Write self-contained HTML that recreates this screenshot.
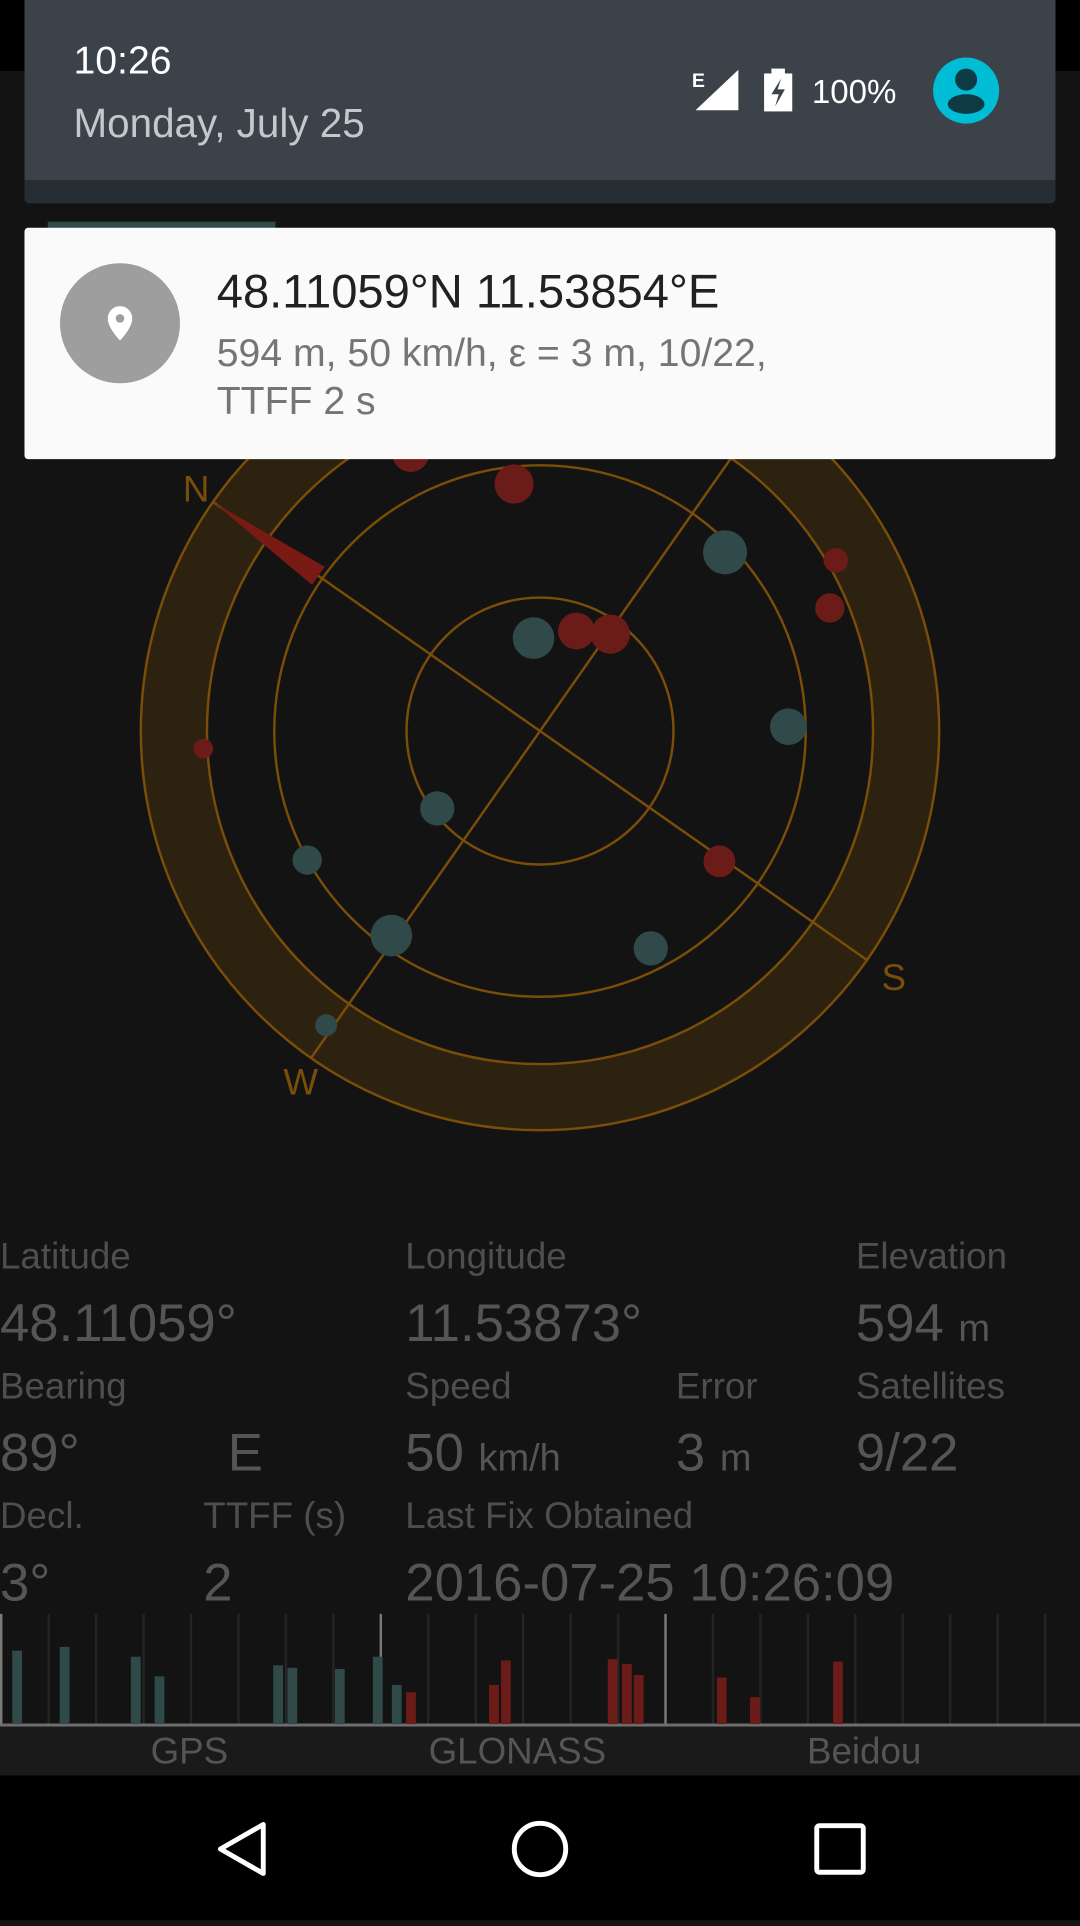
<!DOCTYPE html>
<html><head><meta charset="utf-8"><style>
html,body{margin:0;padding:0;background:#131313;overflow:hidden;width:1080px;height:1920px}
#root{position:absolute;left:0;top:0;width:882px;height:1568px;transform:scale(1.22449);transform-origin:0 0;background:#131313;font-family:"Liberation Sans",sans-serif}
.abs{position:absolute}
.lbl{position:absolute;color:#4e4e4e;font-size:30px;white-space:nowrap}
.val{position:absolute;color:#555;font-size:43px;white-space:nowrap}
.val small{font-size:31px}
</style></head><body>
<div id="root">
<div class="abs" style="left:0;top:0;width:882px;height:58px;background:#000"></div>
<svg class="abs" id="plot" style="left:0;top:0" width="882" height="1000"></svg>
<div class="abs" style="left:20px;top:0;width:842px;height:147px;background:#3b424a"></div>
<div class="abs" style="left:20px;top:147px;width:842px;height:19px;background:#262d33;border-radius:0 0 4px 4px"></div>
<div class="abs" style="left:60px;top:31px;color:#fff;font-size:32px">10:26</div>
<div class="abs" style="left:60px;top:82px;color:#c5c8cb;font-size:33px">Monday, July 25</div>
<svg class="abs" style="left:560px;top:45px" width="270" height="60">
<text x="5" y="26" fill="#fff" font-size="16" font-family="Liberation Sans" font-weight="bold">E</text>
<polygon points="43,12 43,45 8,45" fill="#fff"/>
<rect x="64" y="15" width="23" height="31" fill="#fff"/><rect x="70" y="11" width="11" height="5" fill="#fff"/>
<polygon points="78,19 70,32 76,32 73,42 81,28 75,28" fill="#3b424a"/>
<text x="103" y="39" fill="#fff" font-size="27" font-family="Liberation Sans">100%</text>
<circle cx="229" cy="29" r="27" fill="#00bcd4"/><circle cx="229" cy="20" r="9" fill="#0d3a45"/><ellipse cx="229" cy="40" rx="15" ry="8" fill="#0d3a45"/>
</svg>
<div class="abs" style="left:39px;top:181px;width:186px;height:6px;background:#2f4a48"></div>
<div class="abs" style="left:20px;top:186px;width:842px;height:189px;background:#fafafa;border-radius:3px">
<div class="abs" style="left:29px;top:29px;width:98px;height:98px;border-radius:50%;background:#9e9e9e">
<svg width="98" height="98"><path d="M49,35 a10,10 0 0 1 10,10 c0,8 -10,18 -10,18 c0,0 -10,-10 -10,-18 a10,10 0 0 1 10,-10z" fill="#fff"/><circle cx="49" cy="45" r="3.5" fill="#9e9e9e"/></svg></div>
<div class="abs" style="left:157px;top:31px;font-size:38.5px;color:#212121">48.11059°N 11.53854°E</div>
<div class="abs" style="left:157px;top:83px;font-size:32px;color:#757575;line-height:39px">594 m, 50 km/h, ε = 3 m, 10/22,<br>TTFF 2 s</div>
</div>

<div class="lbl" style="left:0;top:1010px">Latitude</div>
<div class="val" style="left:0;top:1057px">48.11059°</div>
<div class="lbl" style="left:331px;top:1010px">Longitude</div>
<div class="val" style="left:331px;top:1057px">11.53873°</div>
<div class="lbl" style="left:699px;top:1010px">Elevation</div>
<div class="val" style="left:699px;top:1057px">594 <small>m</small></div>
<div class="lbl" style="left:0;top:1116px">Bearing</div>
<div class="val" style="left:0;top:1163px">89°</div>
<div class="val" style="left:186px;top:1163px">E</div>
<div class="lbl" style="left:331px;top:1116px">Speed</div>
<div class="val" style="left:331px;top:1163px">50 <small>km/h</small></div>
<div class="lbl" style="left:552px;top:1116px">Error</div>
<div class="val" style="left:552px;top:1163px">3 <small>m</small></div>
<div class="lbl" style="left:699px;top:1116px">Satellites</div>
<div class="val" style="left:699px;top:1163px">9/22</div>
<div class="lbl" style="left:0;top:1222px">Decl.</div>
<div class="val" style="left:0;top:1269px">3°</div>
<div class="lbl" style="left:166px;top:1222px">TTFF (s)</div>
<div class="val" style="left:166px;top:1269px">2</div>
<div class="lbl" style="left:331px;top:1222px">Last Fix Obtained</div>
<div class="val" style="left:331px;top:1269px">2016-07-25 10:26:09</div>

<svg class="abs" id="bars" style="left:0;top:1310px" width="882" height="140"></svg>
<div class="abs" style="left:0;top:1410px;width:882px;height:40px;background:#1a1a1a"></div>
<div class="lbl" style="left:123px;top:1414px;color:#555">GPS</div>
<div class="lbl" style="left:350px;top:1414px;color:#555">GLONASS</div>
<div class="lbl" style="left:659px;top:1414px;color:#555">Beidou</div>

<div class="abs" style="left:0;top:1450px;width:882px;height:118px;background:#000">
<svg width="882" height="118"><polygon points="215,40 215,80 180,60" fill="none" stroke="#fff" stroke-width="4" stroke-linejoin="round"/><circle cx="441" cy="60" r="21" fill="none" stroke="#fff" stroke-width="4"/><rect x="667" y="41" width="38" height="38" rx="2" fill="none" stroke="#fff" stroke-width="4"/></svg>
</div>
</div>
<script>
// sky plot data
const satAzimuth = [51,101,144,288,296,271,208,271, 30,49,75,91,115,122,322,181];
const satElevation = [69,32,34,61,30,33,35,8, 21,34,66,63,13,19,14,40];
const satSize = [17,18,15,14,12,17,14,9, 15,16,15,16,10,12,8,13];
const satUsed = [1,1,1,1,1,1,1,1, 0,0,0,0,0,0,0,0];
const rotation = -55;
// SNR bars
const barChannel = [0,1,2.5,3,5.5,5.8,6.8,7.6,8.0, 8.3,10.05,10.3,12.55,12.85,13.1,14.85,15.55,17.3];
const barSnr = [30,31.5,27.5,19.5,24,23,22.5,27.5,16, 13,16,26,26.5,24.5,20, 19,11,25.5];
const barUsed = [1,1,1,1,1,1,1,1,1, 0,0,0,0,0,0, 0,0,0];

const NS='http://www.w3.org/2000/svg';
function mk(p,t,a){const e=document.createElementNS(NS,t);for(const k in a)e.setAttribute(k,a[k]);p.appendChild(e);return e;}
const plot=document.getElementById('plot');
const cx=441,cy=597,R=326;
const rOf=el=>R*(1-el/90);
function pos(az,el){const a=(az+rotation)*Math.PI/180,r=rOf(el);return [cx+r*Math.sin(a),cy-r*Math.cos(a)];}
const ring=mk(plot,'circle',{cx:cx,cy:cy,r:299,fill:'none',stroke:'#2d220f','stroke-width':53});


const lc='#7a4e08';
[R,272,217,109].forEach(r=>{const c=mk(plot,'circle',{cx:cx,cy:cy,r:r,fill:'none',stroke:lc,'stroke-width':2});

});
[0,90].forEach(az=>{const p1=pos(az,0),p2=pos(az+180,0);const l=mk(plot,'line',{x1:p1[0],y1:p1[1],x2:p2[0],y2:p2[1],stroke:lc,'stroke-width':2});

});
{const a=rotation*Math.PI/180;const t=pos(0,0);const bx=cx+(R-105)*Math.sin(a),by=cy-(R-105)*Math.cos(a);const px=Math.cos(a)*9,py=Math.sin(a)*9;
const n=mk(plot,'polygon',{points:`${t[0]},${t[1]} ${bx+px},${by+py} ${bx-px},${by-py}`,fill:'#7a1a14'});

}
[['N',0],['S',180],['W',270]].forEach(([s,az])=>{const p=pos(az,-6);const t=mk(plot,'text',{x:p[0]+4,y:p[1]+12,fill:'#7a4e08','font-size':30,'text-anchor':'middle','font-family':'Liberation Sans'});t.textContent=s;

});
satAzimuth.forEach((az,i)=>{const p=pos(az,satElevation[i]);const c=mk(plot,'circle',{cx:p[0],cy:p[1],r:satSize[i],fill:satUsed[i]?'#2f4a48':'#6b1c18'});

});
const bars=document.getElementById('bars');
const base=98,step=38.75;
for(let i=0;i<=22;i++){const x=i*step;const major=(i==0||i==8||i==14);const l=mk(bars,'line',{x1:x+1,y1:8,x2:x+1,y2:base,stroke:major?'#7a7a7a':'#242424','stroke-width':2});

}
const bl=mk(bars,'line',{x1:0,y1:base+1,x2:882,y2:base+1,stroke:'#6e6e6e','stroke-width':3});


barChannel.forEach((ch,i)=>{const h=barSnr[i]*2;const r=mk(bars,'rect',{x:ch*step+10,y:base-h,width:8,height:h,fill:barUsed[i]?'#2f4a48':'#6b1c18'});

});
</script>
</body></html>
